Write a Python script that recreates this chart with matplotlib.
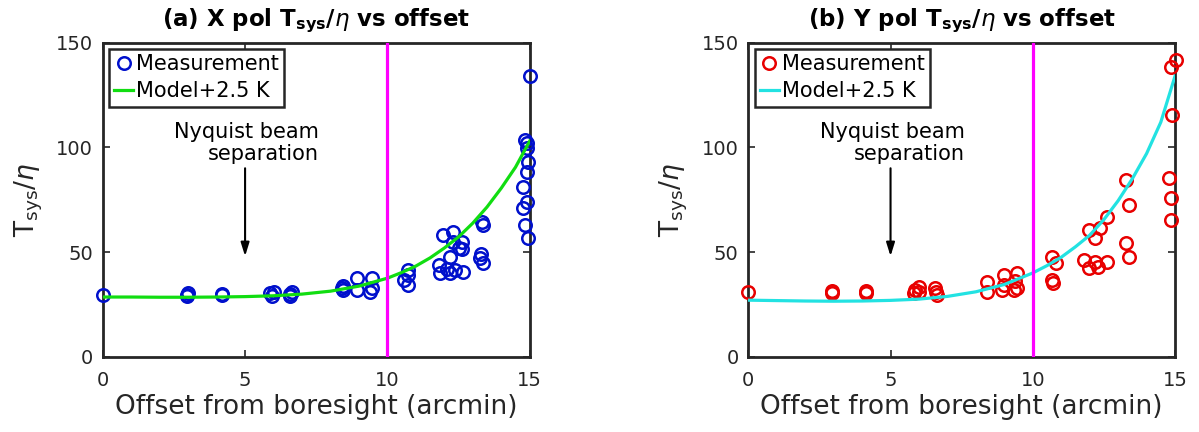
import numpy as np
import matplotlib
matplotlib.use('Agg')
import matplotlib.pyplot as plt

## measured Tsys/eta per offset, X pol
x_off_a = [0.0, 2.95, 3.0, 2.95, 4.18, 4.18, 5.88, 6.0, 5.95, 6.58, 6.65, 6.58,
           8.4, 8.45, 8.45, 8.93, 8.93, 9.45, 9.45, 9.4,
           10.74, 10.74, 10.74, 10.6,
           11.97, 12.32, 12.61, 12.61, 12.2, 11.8, 11.85, 12.2, 12.67, 12.1, 12.38, 12.5, 12.3,
           13.32, 13.36, 13.26, 13.36, 13.3,
           15.0, 14.84, 14.9, 14.9, 14.95, 14.9, 14.78, 14.9, 14.78, 14.84, 14.95]
tsys_a = [29.5, 29.5, 30.5, 28.8, 29.5, 30.0, 30.3, 31.0, 29.0, 30.0, 31.0, 29.0,
          32.7, 31.9, 34.0, 37.5, 31.8, 37.5, 32.7, 31.0,
          41.4, 39.0, 34.3, 36.6,
          58.1, 59.7, 55.0, 51.3, 47.8, 43.8, 39.8, 39.8, 40.6, 42.0, 41.4, 52.0, 55.0,
          64.5, 63.0, 47.0, 44.6, 49.0,
          134.1, 103.5, 102.0, 99.6, 93.0, 88.4, 81.2, 74.0, 70.9, 62.9, 56.6]

## measured Tsys/eta per offset, Y pol
x_off_b = [0.0, 2.94, 2.94, 4.14, 4.14, 5.87, 5.99, 5.83, 6.0, 6.57, 6.6, 6.63,
           8.39, 8.39, 8.98, 8.98, 8.93, 9.45, 9.39, 9.45, 9.33,
           10.68, 10.8, 10.68, 10.7,
           11.97, 12.2, 12.38, 12.62, 11.8, 11.97, 12.2, 12.3, 12.62,
           13.26, 13.38, 13.26, 13.38,
           14.79, 14.85, 14.87, 15.02, 14.85, 14.9]
tsys_b = [31.0, 31.5, 30.5, 31.5, 30.5, 31.9, 33.4, 30.4, 31.0, 32.7, 31.0, 29.5,
          35.8, 31.0, 39.0, 34.3, 32.0, 39.8, 36.0, 32.7, 32.0,
          47.8, 44.6, 36.6, 35.0,
          60.5, 56.6, 61.3, 66.9, 46.2, 42.2, 45.4, 43.0, 45.4,
          84.4, 72.5, 54.2, 47.8,
          85.2, 75.7, 65.3, 141.8, 138.6, 115.5]

## model + 2.5 K curves
x_model = [0, 1, 2, 3, 4, 5, 6, 7, 8, 9, 10, 10.5, 11, 11.5, 12, 12.5, 13, 13.5, 14, 14.5, 15]
model_a = [28.5, 28.5, 28.4, 28.4, 28.5, 28.7, 29.1, 29.9, 31.3, 33.7, 37.5,
           40.2, 43.3, 47.2, 51.9, 57.2, 63.8, 71.5, 80.5, 90.5, 103.0]
model_b = [27.0, 26.8, 26.6, 26.5, 26.6, 26.9, 27.5, 28.8, 31.0, 34.5, 40.0,
           43.5, 47.5, 52.5, 58.0, 65.5, 74.5, 85.0, 97.0, 112.0, 134.0]

nyquist = 10

titles = [r'(a) X pol T$_{\mathbf{sys}}$/$\eta$ vs offset',
          r'(b) Y pol T$_{\mathbf{sys}}$/$\eta$ vs offset']

plt.rcParams['font.family'] = ['DejaVu Sans']
plt.rcParams['mathtext.fontset'] = 'dejavusans'

fig = plt.figure(figsize=(11.99, 4.32), dpi=100)
ax1 = fig.add_axes([0.0857, 0.1743, 0.3561, 0.727])
ax2 = fig.add_axes([0.6241, 0.1743, 0.3559, 0.727])

sets = [(ax1, x_off_a, tsys_a, model_a, '#0010CC', '#11DD11', titles[0]),
        (ax2, x_off_b, tsys_b, model_b, '#E80000', '#22E2E2', titles[1])]

for ax, xs, ys, model, mcol, lcol, title in sets:
    ax.plot(xs, ys, 'o', mfc='none', mec=mcol, ms=9, mew=1.8,
            clip_on=False, label='Measurement', zorder=3)
    ax.plot(x_model, model, '-', color=lcol, lw=2.3, label='Model+2.5 K', zorder=4)
    ax.axvline(nyquist, color='#FF00FF', lw=2.3, zorder=5)

    ax.set_xlim(0, 15)
    ax.set_ylim(0, 150)
    ax.set_xticks([0, 5, 10, 15])
    ax.set_yticks([0, 50, 100, 150])
    ax.tick_params(direction='in', length=5, width=1.2, labelsize=14,
                   top=True, right=True, colors='#262626', labelcolor='#262626')
    ax.tick_params(axis='x', pad=10)
    ax.tick_params(axis='y', pad=7)
    for sp in ax.spines.values():
        sp.set_linewidth(2.0)
        sp.set_color('#262626')

    ax.set_xlabel('Offset from boresight (arcmin)', fontsize=19, color='#262626', labelpad=3)
    ax.set_ylabel(r'T$_{\rm sys}$/$\eta$', fontsize=19, color='#262626', labelpad=8)
    ax.set_title(title, fontsize=16.5, fontweight='bold', pad=12)

    leg = ax.legend(loc='upper left', fontsize=15, handlelength=0.9, handletextpad=0.15,
                    borderpad=0.25, labelspacing=0.35, borderaxespad=0.3,
                    fancybox=False, framealpha=1, edgecolor='#262626')
    leg.get_frame().set_linewidth(1.8)

    # Nyquist label with a vertical arrow pointing down at 5 arcmin
    ax.text(7.6, 102, 'Nyquist beam\nseparation', ha='right', va='center',
            fontsize=15, multialignment='right', linespacing=1.1)
    ax.annotate('', xy=(5, 48), xytext=(5, 90),
                arrowprops=dict(arrowstyle='-|>,head_length=0.8,head_width=0.25',
                                color='black', lw=1.5, shrinkA=0, shrinkB=0))

fig.savefig('out.png', dpi=100)
